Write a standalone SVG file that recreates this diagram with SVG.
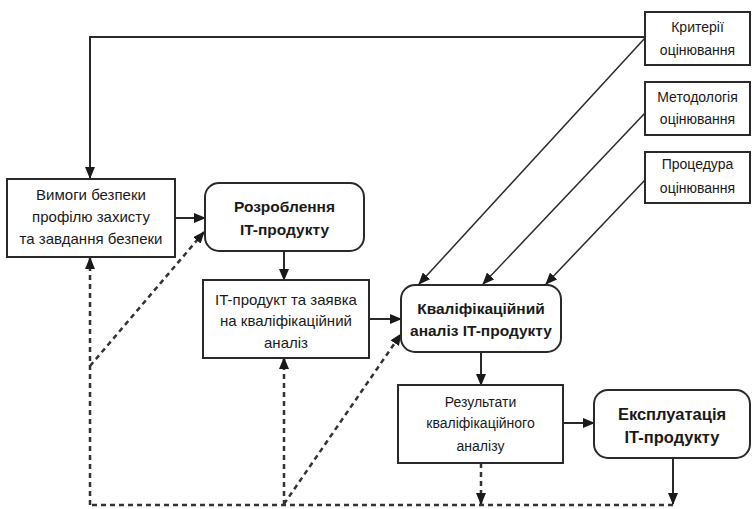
<svg xmlns="http://www.w3.org/2000/svg" width="752" height="509" viewBox="0 0 752 509">
<defs>
<marker id="ah" markerWidth="12" markerHeight="10" refX="11" refY="5" orient="auto" markerUnits="userSpaceOnUse">
<path d="M0,0 L12,5 L0,10 Z" fill="#1a1a1a"/>
</marker>
</defs>
<style>
.box{fill:#fff;stroke:#2a2a2a;stroke-width:2}
.t{font-family:"Liberation Sans",Arial,sans-serif;font-size:15px;fill:#1a1a1a;text-anchor:middle}
.b{font-weight:bold;font-size:15.5px}
.bl{font-weight:bold;font-size:16.5px}
.s{font-size:14px}
.c{fill:none;stroke:#2a2a2a;stroke-width:2}
.thin{stroke-width:1.5}
.d{fill:none;stroke:#333;stroke-width:2.5;stroke-dasharray:5 4}
</style>
<rect width="752" height="509" fill="#fff"/>
<g id="connectors">
<path class="c" d="M645,37 H90 V178" marker-end="url(#ah)"/>
<path class="c" d="M175,218 H205" marker-end="url(#ah)"/>
<path class="c" d="M284,251 V280" marker-end="url(#ah)"/>
<path class="c" d="M369,319 H401" marker-end="url(#ah)"/>
<path class="c thin" d="M645,38 L419,284" marker-end="url(#ah)"/>
<path class="c thin" d="M645,113 L483,284" marker-end="url(#ah)"/>
<path class="c thin" d="M645,180 L546,284" marker-end="url(#ah)"/>
<path class="c" d="M481,352 V385" marker-end="url(#ah)"/>
<path class="c" d="M563,423 H594" marker-end="url(#ah)"/>
<path class="c" d="M673,458 V504" marker-end="url(#ah)"/>
<path class="d" d="M481,463 V504" marker-end="url(#ah)"/>
<path class="d" d="M673,505 H90"/>
<path class="d" d="M90,505 V258" marker-end="url(#ah)"/>
<path class="d" d="M284,505 V358" marker-end="url(#ah)"/>
<path class="d" d="M90,366 L204,232" marker-end="url(#ah)"/>
<path class="d" d="M284,504 L401,334" marker-end="url(#ah)"/>
</g>
<g id="n-vymogy">
<rect class="box" x="7" y="179" width="168" height="78"/>
<text class="t" x="91" y="200">Вимоги безпеки</text>
<text class="t" x="91" y="222">профілю захисту</text>
<text class="t" x="91" y="244">та завдання безпеки</text>
</g>
<g id="n-rozroblennia">
<rect class="box" x="205" y="183" width="159" height="68" rx="14"/>
<text class="t b" x="284.5" y="212">Розроблення</text>
<text class="t b" x="284.5" y="235">IT-продукту</text>
</g>
<g id="n-zaiavka">
<rect class="box" x="203" y="280" width="166" height="78"/>
<text class="t" x="286" y="305">IT-продукт та заявка</text>
<text class="t" x="286" y="326">на кваліфікаційний</text>
<text class="t" x="286" y="348">аналіз</text>
</g>
<g id="n-analiz">
<rect class="box" x="401" y="285" width="160" height="67" rx="14"/>
<text class="t b" x="481" y="314">Кваліфікаційний</text>
<text class="t b" x="481" y="336">аналіз IT-продукту</text>
</g>
<g id="n-rezultaty">
<rect class="box" x="398" y="385" width="165" height="78"/>
<text class="t s" x="480.5" y="407">Результати</text>
<text class="t s" x="480.5" y="428">кваліфікаційного</text>
<text class="t s" x="480.5" y="451">аналізу</text>
</g>
<g id="n-ekspluatatsiia">
<rect class="box" x="594" y="390" width="156" height="68" rx="14"/>
<text class="t bl" x="672" y="420">Експлуатація</text>
<text class="t bl" x="672" y="443">IT-продукту</text>
</g>
<g id="n-kryterii">
<rect class="box" x="645" y="12" width="105" height="53"/>
<text class="t s" x="697.5" y="32">Критерії</text>
<text class="t s" x="697.5" y="55">оцінювання</text>
</g>
<g id="n-metodologiia">
<rect class="box" x="645" y="82" width="105" height="53"/>
<text class="t s" x="697.5" y="102">Методологія</text>
<text class="t s" x="697.5" y="124">оцінювання</text>
</g>
<g id="n-protsedura">
<rect class="box" x="645" y="152" width="105" height="51"/>
<text class="t s" x="697.5" y="169">Процедура</text>
<text class="t s" x="697.5" y="193">оцінювання</text>
</g>
</svg>
